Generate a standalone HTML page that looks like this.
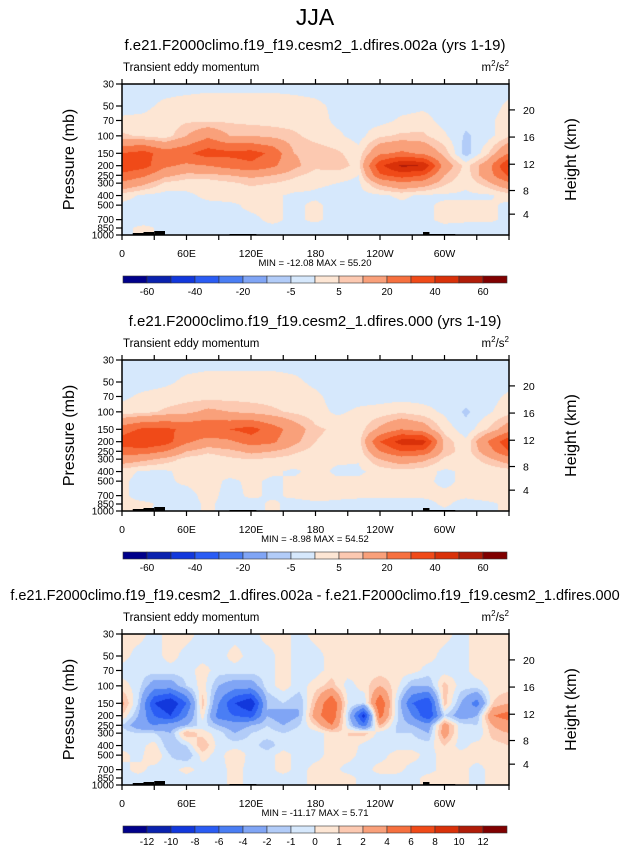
<!DOCTYPE html>
<html><head><meta charset="utf-8">
<style>
html,body{margin:0;padding:0;background:#fff;}
body{width:630px;height:851px;position:relative;overflow:hidden;font-family:"Liberation Sans",Arial,sans-serif;}
canvas{position:absolute;left:122px;}
svg{position:absolute;left:0;top:0;}
text{font-family:"Liberation Sans",Arial,sans-serif;fill:#000;}
</style></head>
<body>
<canvas id="c1" width="387" height="151" style="top:84px"></canvas>
<canvas id="c2" width="387" height="151" style="top:360px"></canvas>
<canvas id="c3" width="387" height="151" style="top:634px"></canvas>
<svg id="ov" width="630" height="851">
<text x="315" y="25" font-size="23" text-anchor="middle">JJA</text>
</svg>
<script>
// ---------- data ----------
const PRES = [30,50,70,100,150,200,250,300,400,500,700,850,1000];
const LONS_A = [0,20,40,60,80,100,120,140,160,180,200,220,240,260,280,300,320,340,360];
const LONS_B = [0,15,30,45,60,75,90,105,120,135,150,165,180,195,210,225,240,255,270,285,300,315,330,345,360];
const LEVELS_A = [-60,-50,-40,-30,-20,-10,-5,0,5,10,20,30,40,50,60];
const LEVELS_B = [-12,-10,-8,-6,-4,-2,-1,0,1,2,4,6,8,10,12];
const LABELS_A = ["-60","-40","-20","-5","5","20","40","60"];
const LABEL_IDX_A = [0,2,4,6,8,10,12,14];
const LABELS_B = ["-12","-10","-8","-6","-4","-2","-1","0","1","2","4","6","8","10","12"];
const LABEL_IDX_B = [0,1,2,3,4,5,6,7,8,9,10,11,12,13,14];
const COLORS = ["#00008a","#0a22ae","#1238dc","#2a5cf4","#4a7ef4","#80a5f5","#b2ccf8","#d6e8fc",
                "#fde6d4","#fcc9b1","#f9a07a","#f6703f","#f04a18","#d93109","#b01c08","#800000"];
const XTICK_LABELS = ["0","60E","120E","180","120W","60W"];
const XTICK_LABEL_LONS = [0,60,120,180,240,300];
const XTICK_LONS = [0,30,60,90,120,150,180,210,240,270,300,330,360];
const HEIGHT_KM = [4,8,12,16,20];

const P1 = [
[-2,-2,-2,-2,-2,-2,-2,-2,-2,-2,-2,-2,-2,-2,-2,-2,-2,-2,-2],
[-2,-1,1,2,3,3,3,3,2,1,-1,-2,-2,-2,-1,-2,-2,-2,1],
[1,1,2,4,4,4,3,3,3,2,-1,-2,-2,1,2,-2,-3,-1,2],
[6,4,2,10,18,10,10,8,6,3,1,-2,4,6,6,1,-6,-2,4],
[30,34,25,28,35,33,34,28,10,8,6,2,18,22,18,8,-8,4,20],
[36,34,22,18,20,24,28,22,12,6,8,3,38,52,50,15,3,15,42],
[28,22,12,8,8,10,12,10,6,3,2,0,28,35,30,10,2,15,32],
[18,12,4,2,2,4,6,5,3,1,0,-1,12,18,15,6,1,8,18],
[2,-1,-2,-1,1,2,2,1,-1,-1,-2,-2,-1,1,-1,-1,-1,-1,2],
[-1,-2,-2,-1,-1,-1,1,1,-1,1,-2,-2,-2,-1,-1,1,1,1,-1],
[-2,-2,-1,-2,-2,-1,-1,1,-1,1,-2,-2,-2,-2,-1,1,1,1,-1],
[-1,1,-1,-1,-2,-2,-1,-1,-1,-2,-2,-2,-2,-2,-2,-1,-2,-2,-1],
[-1,1,-1,-1,-2,-2,-1,-1,-1,-2,-2,-2,-2,-2,-2,-1,-2,-2,-1]];

const P2 = [
[-2,-2,-2,-2,-2,-2,-2,-2,-2,-2,-2,-2,-2,-2,-2,-2,-2,-2,-2],
[-2,-2,-1,1,2,2,2,2,1,-1,-2,-2,-2,-2,-2,-2,-2,-2,-2],
[-1,1,2,3,3,3,3,3,2,1,-2,-2,-2,-2,-2,-2,-2,-2,1],
[2,3,6,8,12,10,8,6,4,2,-1,1,2,4,2,-1,-6,-1,3],
[25,32,32,28,30,30,34,25,15,6,4,2,12,20,15,3,-3,5,15],
[35,40,35,22,15,18,25,22,12,5,3,2,30,45,45,8,1,20,38],
[25,25,20,10,6,8,12,10,6,3,2,1,20,30,28,8,2,15,30],
[15,12,8,3,2,4,5,4,3,1,1,0.5,10,15,12,4,1,8,15],
[2,-1,-1,2,1,2,2,1,-1,2,-1,-1,2,3,2,-1,1,1,2],
[1,-2,-1,1,2,-1,1,-1,1,2,1,1,2,2,1,-1,1,2,1],
[1,-2,-1,-2,2,-2,1,-1,1,2,1,1,1,1,1,1,1,2,1],
[1,1,-1,-2,1,-2,-2,1,-2,-1,-1,-2,-2,-2,-2,1,-2,-1,1],
[1,1,-2,-2,1,-2,-2,1,-2,-2,-2,-2,-2,-2,-2,-1,-2,-1,1]];

const P3 = [
[0.5,0.5,-0.5,0.5,0.5,-0.5,-0.5,-0.5,-0.5,0.5,0.5,-0.5,0.5,0.5,0.5,0.5,0.5,0.5,0.5,0.5,0.5,-0.5,0.5,0.5,0.5],
[0.5,-0.5,-0.5,0.5,-0.5,-0.5,-0.5,0.5,-0.5,-0.5,0.5,-0.5,-0.5,0.5,0.5,0.5,0.5,0.5,0.5,0.5,-0.5,-0.5,0.5,0.5,0.5],
[-0.5,-0.5,-0.5,-0.5,-0.5,0.5,-0.5,-0.5,-0.5,-0.5,0.5,-0.5,-0.5,0.5,0.5,0.5,0.5,0.5,0.5,-0.5,-0.5,-0.5,0.5,0.5,0.5],
[0.5,-0.5,-3,-3,-1,0.5,-2,-3,-3,-0.5,0.5,-0.5,0.5,1.5,-0.5,0.5,2,0.5,-2,-2,1.5,-0.5,-0.5,0.5,0.5],
[2.5,-1,-8,-10,-6,1.5,-4,-8,-10,-2,-1,-2,2,6,0,-1,6,-0.5,-6,-8,1.5,-2,-5,1,2],
[1,-2,-6,-8,-4,0.5,-5,-6,-7,-2,-3,-2,3,6,-1,-9,5,-0.5,-4,-8,-1,-3,-2,4,5],
[-1,-3,-4,-3,-2,-0.5,-2,-3,-2,-1,-2,-1,1,4,-0.5,-5,2,-1,-2,-3,3,-0.5,-1,2,3],
[-0.5,-1,-1,-2,2,0.5,-0.5,-2,-1,-0.5,-1,-0.5,-0.5,0.5,1,1.5,-0.5,-1,-1,-2,3,-0.5,-1,1.5,2],
[-0.5,-0.5,0.5,-2,-1,2,-0.5,-0.5,-0.5,-1.5,-0.5,-0.5,-0.5,0.5,1,-0.5,-1,-0.5,-0.5,-0.5,1,-0.5,0.5,0.5,1],
[0.5,-0.5,1,-1,-2,0.5,-0.5,1,-0.5,-0.5,0.5,-0.5,-0.5,0.5,0.5,-0.5,-0.5,0.5,0.5,-0.5,0.5,0.5,0.5,0.5,0.5],
[-0.5,0.5,-0.5,-0.5,0.5,-0.5,-0.5,0.5,-0.5,-0.5,0.5,-0.5,0.5,0.5,-0.5,-0.5,0.5,0.5,-0.5,-0.5,0.5,0.5,-0.5,0.5,0.5],
[-0.5,-0.5,-0.5,-0.5,-0.5,-0.5,-0.5,0.5,-0.5,-0.5,-0.5,-0.5,0.5,0.5,0.5,-0.5,-0.5,-0.5,-0.5,0.5,0.5,0.5,-0.5,0.5,0.5],
[-0.5,-0.5,-0.5,-0.5,-0.5,-0.5,-0.5,0.5,-0.5,-0.5,-0.5,-0.5,0.5,0.5,0.5,-0.5,-0.5,-0.5,-0.5,0.5,0.5,0.5,-0.5,0.5,0.5]];

const TITLES = ["f.e21.F2000climo.f19_f19.cesm2_1.dfires.002a (yrs 1-19)",
                "f.e21.F2000climo.f19_f19.cesm2_1.dfires.000 (yrs 1-19)",
                "f.e21.F2000climo.f19_f19.cesm2_1.dfires.002a - f.e21.F2000climo.f19_f19.cesm2_1.dfires.000"];
const MINMAX = ["MIN = -12.08  MAX =  55.20","MIN = -8.98  MAX = 54.52","MIN = -11.17  MAX =  5.71"];

// ---------- geometry ----------
const X0 = 122, W = 387, H = 151;
const TOPS = [84, 360, 634];
const LN0 = Math.log(30), LNR = Math.log(1000/30);
function xOfLon(lon){ return X0 + lon*W/360; }
function yOfP(p, top){ return top + H*(Math.log(p)-LN0)/LNR; }
function pOfKm(z){ return z<=11 ? 1013.25*Math.pow(1-0.0065*z*1000/288.15,5.2559) : 226.32*Math.exp(-(z-11)/6.3416); }
function hexRgb(h){ return [parseInt(h.substr(1,2),16),parseInt(h.substr(3,2),16),parseInt(h.substr(5,2),16)]; }
const RGB = COLORS.map(hexRgb);

function drawField(id, grid, lons, levels){
  const cv = document.getElementById(id), ctx = cv.getContext('2d');
  const img = ctx.createImageData(W,H);
  const lnP = PRES.map(Math.log);
  const step = lons[1]-lons[0];
  for(let py=0;py<H;py++){
    const lp = LN0 + (py+0.5)/H*LNR;
    let i=0; while(i<PRES.length-2 && lnP[i+1]<lp) i++;
    const fy = Math.min(1,Math.max(0,(lp-lnP[i])/(lnP[i+1]-lnP[i])));
    for(let px=0;px<W;px++){
      const lon=(px+0.5)/W*360;
      let j=Math.min(lons.length-2,Math.floor(lon/step));
      const fx=(lon-lons[j])/step;
      const v=(grid[i][j]*(1-fx)+grid[i][j+1]*fx)*(1-fy)+(grid[i+1][j]*(1-fx)+grid[i+1][j+1]*fx)*fy;
      let k=0; while(k<levels.length && v>=levels[k]) k++;
      const c=RGB[k], o=(py*W+px)*4;
      img.data[o]=c[0];img.data[o+1]=c[1];img.data[o+2]=c[2];img.data[o+3]=255;
    }
  }
  ctx.putImageData(img,0,0);
}
drawField('c1',P1,LONS_A,LEVELS_A);
drawField('c2',P2,LONS_A,LEVELS_A);
drawField('c3',P3,LONS_B,LEVELS_B);

// ---------- overlay ----------
const NS="http://www.w3.org/2000/svg", ov=document.getElementById('ov');
function mk(tag,attrs,parent){ const e=document.createElementNS(NS,tag); for(const k in attrs) e.setAttribute(k,attrs[k]); (parent||ov).appendChild(e); return e; }
function txt(s,attrs,parent){ const e=mk('text',attrs,parent); e.textContent=s; return e; }

TOPS.forEach((top,pi)=>{
  const g=mk('g',{});
  
  
  const t=txt(TITLES[pi],{x:315,y:top-34,'font-size':pi==2?14.5:15,'text-anchor':'middle'},g);
  
  
  const l=txt('Transient eddy momentum',{x:123,y:top-13,'font-size':11.5},g);
  
  
  const u=mk('text',{x:509,y:top-13,'font-size':11.5,'text-anchor':'end'},g);
  u.innerHTML='m<tspan dy="-5" font-size="8">2</tspan><tspan dy="5">/s</tspan><tspan dy="-5" font-size="8">2</tspan>';
  
  
  [[10,20,2],[20,30,3],[30,40,4],[100,125,1],[280,286,3],[286,310,1]].forEach(r=>{
    const rr=mk('rect',{x:xOfLon(r[0]),y:top+H-r[2],width:xOfLon(r[1])-xOfLon(r[0]),height:r[2],fill:'#000'},g);
    
    
  });
  const fr=mk('rect',{x:X0,y:top,width:W,height:H,fill:'none',stroke:'#000','stroke-width':1.5},g);
  
  
  XTICK_LONS.forEach(lon=>{
    const x=xOfLon(lon);
    mk('line',{x1:x,x2:x,y1:top,y2:top-5,stroke:'#000','stroke-width':1.2},g);
    mk('line',{x1:x,x2:x,y1:top+H,y2:top+H+5,stroke:'#000','stroke-width':1.2},g);
  });
  XTICK_LABELS.forEach((s,i)=>{
    const e=txt(s,{x:xOfLon(XTICK_LABEL_LONS[i]),y:top+H+22,'font-size':10.5,'text-anchor':'middle'},g);
    
    
  });
  PRES.forEach(p=>{
    const y=yOfP(p,top);
    mk('line',{x1:X0,x2:X0-6,y1:y,y2:y,stroke:'#000','stroke-width':1.2},g);
    const e=txt(String(p),{x:X0-8,y:y+3.5,'font-size':10,'text-anchor':'end'},g);
    
    
  });
  HEIGHT_KM.forEach(z=>{
    const y=yOfP(pOfKm(z),top);
    mk('line',{x1:X0+W,x2:X0+W+6,y1:y,y2:y,stroke:'#000','stroke-width':1.2},g);
    const e=txt(String(z),{x:X0+W+14,y:y+4,'font-size':10.5},g);
    
    
  });
  const ya=txt('Pressure (mb)',{x:0,y:0,'font-size':16,'text-anchor':'middle',transform:`translate(74,${top+H/2}) rotate(-90)`},g);
  
  
  const ya2=txt('Height (km)',{x:0,y:0,'font-size':16,'text-anchor':'middle',transform:`translate(576,${top+H/2}) rotate(-90)`},g);
  
  
  const mm=txt(MINMAX[pi],{x:315,y:top+H+31,'font-size':9.5,'text-anchor':'middle'},g);
  
  
  const cy=top+H+41, bw=24, bx=123;
  COLORS.forEach((c,k)=>{
    const b=mk('rect',{x:bx+k*bw,y:cy,width:bw,height:7,fill:c,stroke:'#333','stroke-width':0.6},g);
    
    
  });
  const labs=pi==2?LABELS_B:LABELS_A, idx=pi==2?LABEL_IDX_B:LABEL_IDX_A;
  labs.forEach((s,i)=>{
    const e=txt(s,{x:bx+(idx[i]+1)*bw,y:cy+19,'font-size':10,'text-anchor':'middle'},g);
    
    
  });
});
</script>
</body></html>
